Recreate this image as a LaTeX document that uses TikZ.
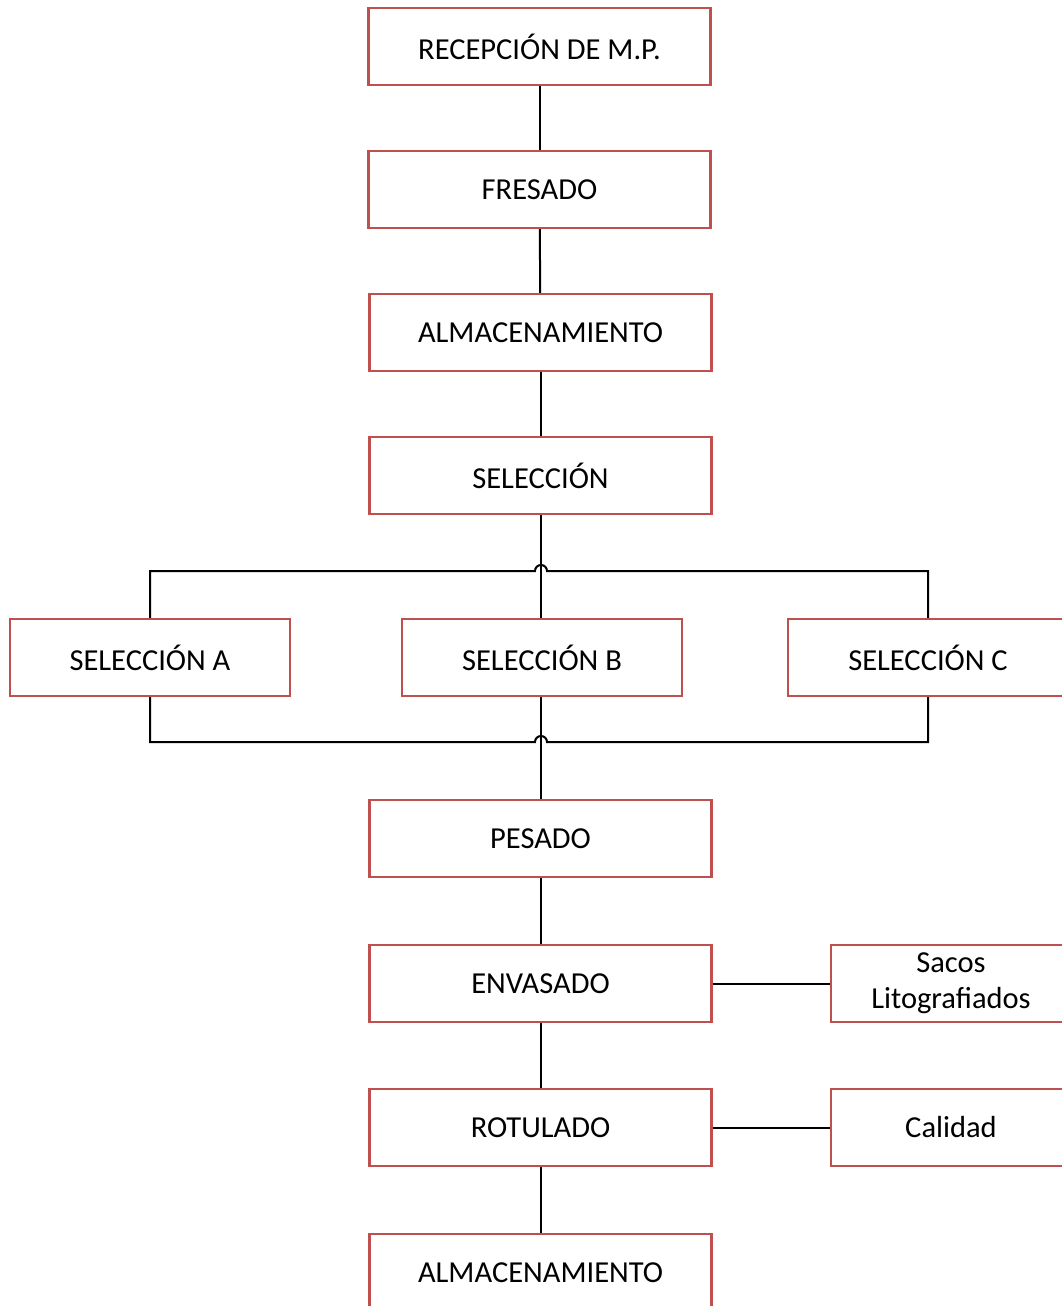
\documentclass[tikz,border=0pt]{standalone}
\usepackage{fontspec}
\setmainfont{Carlito}
\definecolor{boxred}{HTML}{C0504D}
\begin{document}
\begin{tikzpicture}[x=1pt,y=-1pt,
  box/.style={draw=boxred,line width=2.2pt,minimum height=77pt,inner sep=0pt,
    font=\fontsize{30.5}{36}\selectfont,align=center,fill=white},
  mainbox/.style={box,minimum width=342pt},
  sidebox/.style={box,minimum width=280pt},
  extbox/.style={box,minimum width=240pt},
  link/.style={draw=black,line width=2pt}]
\useasboundingbox (0,0) rectangle (1062,1306);
\node[mainbox] (rec) at (539.5,46.5) {RECEPCIÓN DE M.P.};
\node[mainbox] (fre) at (539.5,189.5) {FRESADO};
\node[mainbox] (alm1) at (540.5,332.5) {ALMACENAMIENTO};
\node[mainbox] (sel) at (540.5,475.5) {SELECCIÓN};
\node[sidebox] (sa) at (150,657.5) {SELECCIÓN A};
\node[sidebox] (sb) at (542,657.5) {SELECCIÓN B};
\node[sidebox] (sc) at (928,657.5) {SELECCIÓN C};
\node[mainbox] (pes) at (540.5,838.5) {PESADO};
\node[mainbox] (env) at (540.5,983.5) {ENVASADO};
\node[extbox] (sac) at (951,983.5) {Sacos\\Litografiados};
\node[mainbox] (rot) at (540.5,1127.5) {ROTULADO};
\node[extbox] (cal) at (951,1127.5) {Calidad};
\node[mainbox] (alm2) at (540.5,1272.5) {ALMACENAMIENTO};
\coordinate (j1) at (541,571);
\coordinate (j2) at (541,742);
\draw[link] (rec) -- (fre);
\draw[link] (fre) -- (alm1);
\draw[link] (alm1) -- (sel);
\draw[link] (sel.south -| j1) -- (sb.north -| j1);
\draw[link] (sa.north) |- ([xshift=-6pt]j1) arc[start angle=180,end angle=0,radius=6pt] -| (sc.north);
\draw[link] (sb.south -| j2) -- (pes.north -| j2);
\draw[link] (sa.south) |- ([xshift=-6pt]j2) arc[start angle=180,end angle=0,radius=6pt] -| (sc.south);
\draw[link] (pes) -- (env);
\draw[link] (env) -- (rot);
\draw[link] (rot) -- (alm2);
\draw[link] (env) -- (sac);
\draw[link] (rot) -- (cal);
\end{tikzpicture}
\end{document}
